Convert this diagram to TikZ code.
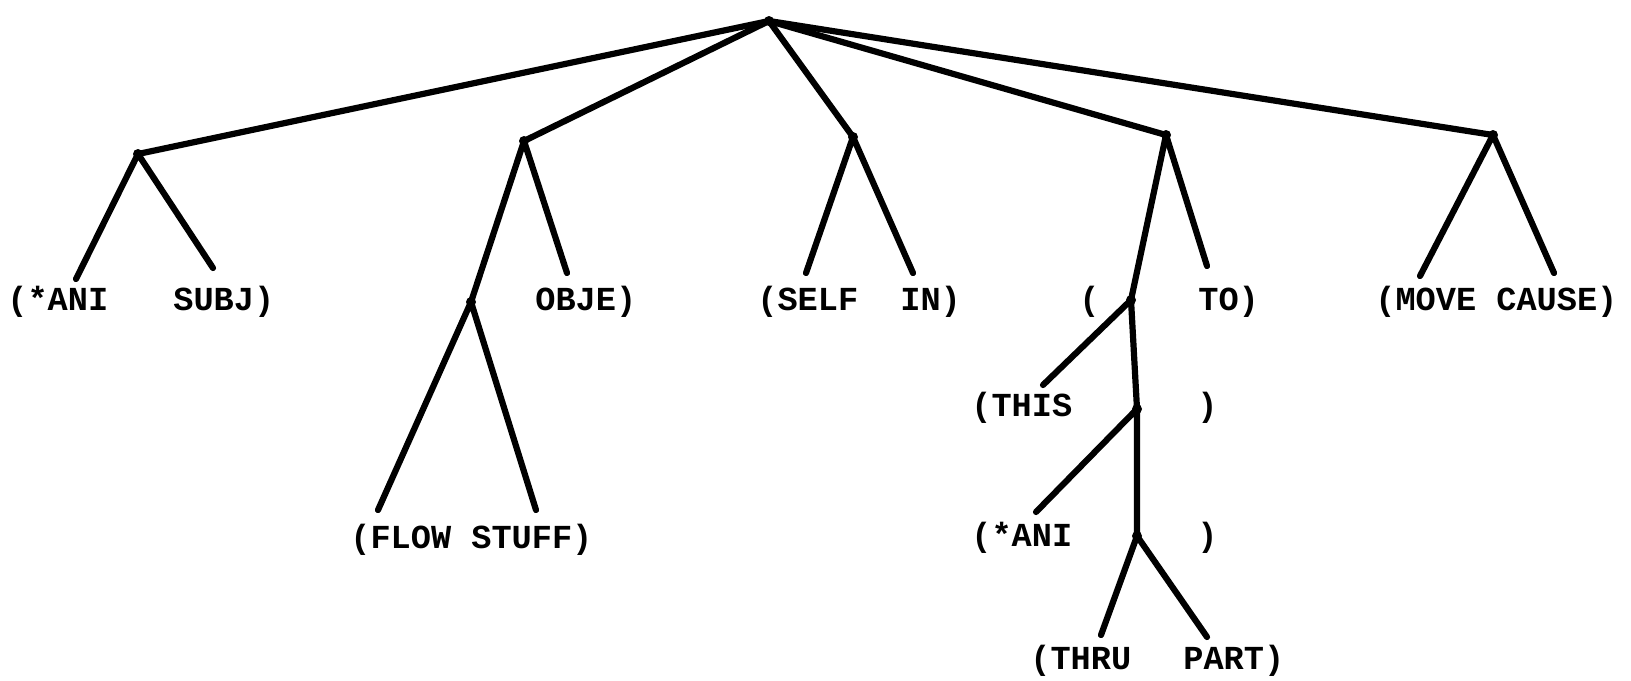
\documentclass[tikz,border=0pt]{standalone}
\usepackage{fontspec}
\setmonofont{Liberation Mono}
\begin{document}
\begin{tikzpicture}[x=0.5pt,y=-0.5pt,
  branch/.style={line width=3.1pt,line cap=round,line join=round},
  lbl/.style={anchor=base west,inner sep=0pt,font=\fontsize{16.8}{16.8}\selectfont\ttfamily\bfseries},
  knot/.style={circle,fill=black,inner sep=0pt,minimum size=5pt}]
\useasboundingbox (0,0) rectangle (1631,680);

% internal junctions
\node[knot] (root) at (769,21) {};
\node[knot] (a) at (138,154) {};
\node[knot] (b) at (524,141) {};
\node[knot] (b2) at (471,302) {};
\node[knot] (c) at (853,137) {};
\node[knot] (d) at (1166,135) {};
\node[knot] (d2) at (1131,300) {};
\node[knot] (d3) at (1137,409) {};
\node[knot] (d4) at (1137,536) {};
\node[knot] (e) at (1493,135) {};

% free ends of the branches
\coordinate (al) at (76,279);
\coordinate (ar) at (213,268);
\coordinate (br) at (567,273);
\coordinate (b2l) at (378,510);
\coordinate (b2r) at (536,510);
\coordinate (cl) at (806,273);
\coordinate (cr) at (913,273);
\coordinate (dr) at (1207,266);
\coordinate (d2l) at (1043,385);
\coordinate (d3l) at (1036,512);
\coordinate (d4l) at (1101,635);
\coordinate (d4r) at (1207,637);
\coordinate (el) at (1420,276);
\coordinate (er) at (1554,273);

% branches
\draw[branch] (root.center) -- (a.center);
\draw[branch] (root.center) -- (b.center);
\draw[branch] (root.center) -- (c.center);
\draw[branch] (root.center) -- (d.center);
\draw[branch] (root.center) -- (e.center);
\draw[branch] (al) -- (a.center) -- (ar);
\draw[branch] (b2.center) -- (b.center) -- (br);
\draw[branch] (b2l) -- (b2.center) -- (b2r);
\draw[branch] (cl) -- (c.center) -- (cr);
\draw[branch] (d2.center) -- (d.center) -- (dr);
\draw[branch] (d2l) -- (d2.center) -- (d3.center);
\draw[branch] (d3l) -- (d3.center) -- (d4.center);
\draw[branch] (d4l) -- (d4.center) -- (d4r);
\draw[branch] (el) -- (e.center) -- (er);

% labels
\node[lbl] (t1) at (7,310) {(*ANI};
\node[lbl] (t2) at (173,310) {SUBJ)};
\node[lbl] (t3) at (535,310) {OBJE)};
\node[lbl] (t4) at (757,310) {(SELF};
\node[lbl] (t5) at (900,310) {IN)};
\node[lbl] (t6) at (1079,310) {(};
\node[lbl] (t7) at (1198,310) {TO)};
\node[lbl] (t8) at (1375,310) {(MOVE CAUSE)};
\node[lbl] (t9) at (350,548) {(FLOW STUFF)};
\node[lbl] (t10) at (971,416) {(THIS};
\node[lbl] (t11) at (1197,416) {)};
\node[lbl] (t12) at (971,546) {(*ANI};
\node[lbl] (t13) at (1197,546) {)};
\node[lbl] (t14) at (1030,669) {(THRU};
\node[lbl] (t15) at (1183,669) {PART)};
\end{tikzpicture}
\end{document}
